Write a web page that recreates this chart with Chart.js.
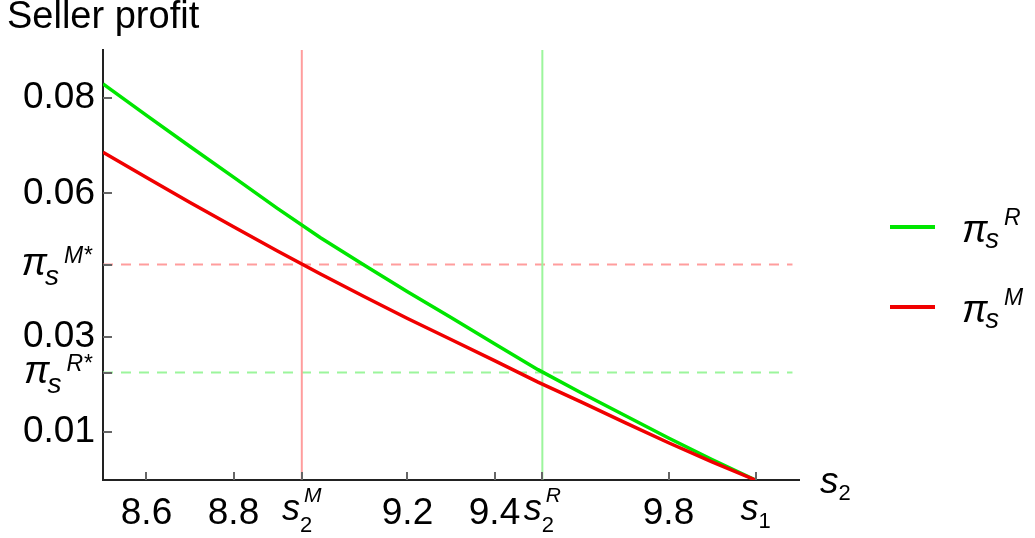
<!DOCTYPE html>
<html>
<head>
<meta charset="utf-8">
<script src="https://cdn.jsdelivr.net/npm/chart.js@4.4.0/dist/chart.umd.min.js"></script>
<style>
  html, body { margin: 0; padding: 0; background: #fff; }
  #wrap { width: 1035px; height: 538px; }
</style>
</head>
<body>
<div id="wrap"><canvas id="profitChart" width="1035" height="538"></canvas></div>
<script>
// seller quality s2 and the seller profit under the two regimes
var s2Values = [8.5, 8.6, 8.7, 8.8, 8.9, 9.0, 9.1, 9.2, 9.3, 9.4, 9.5, 9.6, 9.7, 9.8, 9.9, 10.0];
var profitR = [0.0829, 0.0763, 0.0698, 0.0634, 0.0569, 0.0507, 0.0450, 0.0394, 0.0340, 0.0285, 0.0231, 0.0182, 0.0135, 0.0088, 0.0043, 0.0];
var profitM = [0.0686, 0.0633, 0.0581, 0.0530, 0.0480, 0.0431, 0.0384, 0.0338, 0.0294, 0.0250, 0.0205, 0.0163, 0.0120, 0.0078, 0.0038, 0.0];

// equilibrium points
var s2M = 8.957, s2R = 9.51, s1 = 10.0;
var piMStar = 0.0451, piRStar = 0.0225;

// ticks ("_" = subscript, "^" = superscript)
var xTickValues = [8.6, 8.8, s2M, 9.2, 9.4, s2R, 9.8, s1];
var xTickLabels = ["8.6", "8.8", "s_2^M", "9.2", "9.4", "s_2^R", "9.8", "s_1"];
var yTickValues = [0.01, piRStar, 0.03, piMStar, 0.06, 0.08];
var yTickLabels = ["0.01", "π_s^R*", "0.03", "π_s^M*", "0.06", "0.08"];

var legendLabels = ["π_s^R", "π_s^M"];
var GREEN = "#00e600", RED = "#f00000";
var LIGHT_GREEN = "#9cf59c", LIGHT_RED = "#ff9d9d";

function font(size, italic) {
  return (italic ? "italic " : "") + size + 'px "Liberation Sans", Arial, sans-serif';
}

// draws things like s_2^M or π_s^M* with real sub/superscripts
function drawScript(ctx, label, x, y, o) {
  var m = label.match(/^([^_^]+)(?:_([^^]+))?(?:\^(.+))?$/);
  var base = m[1], sub = m[2] || "", sup = m[3] || "";
  var isNum = function (s) { return /^[0-9.]+$/.test(s); };
  ctx.font = font(o.base, !isNum(base));
  var wb = ctx.measureText(base).width;
  ctx.font = font(o.sub, !isNum(sub));
  var ws = sub ? ctx.measureText(sub).width : 0;
  ctx.font = font(o.sup, true);
  var wp = sup ? ctx.measureText(sup).width : 0;
  var total = o.stacked ? wb + Math.max(ws, sup ? wp + o.supShift : 0)
                        : wb + ws + (sup ? o.supGap + wp : 0);
  var x0 = o.align === "center" ? x - total / 2 : (o.align === "right" ? x - total : x);
  ctx.textAlign = "left";
  ctx.textBaseline = "alphabetic";
  ctx.fillStyle = "#000";
  ctx.font = font(o.base, !isNum(base));
  ctx.fillText(base, x0, y);
  if (sub) {
    ctx.font = font(o.sub, !isNum(sub));
    ctx.fillText(sub, x0 + wb - (o.subBack || 0), y + (sup || !o.stacked ? o.subDy : o.subDyAlone));
  }
  if (sup) {
    ctx.font = font(o.sup, true);
    var sx = o.stacked ? x0 + wb + o.supShift : x0 + wb + ws + o.supGap;
    ctx.fillText(sup, sx, y + o.supDy);
  }
}

var mathPlugin = {
  id: "mathLabels",
  afterDraw: function (chart) {
    var ctx = chart.ctx, xs = chart.scales.x, ys = chart.scales.y, area = chart.chartArea;
    ctx.save();

    // small inward tick marks
    ctx.strokeStyle = "#666";
    ctx.lineWidth = 2;
    ctx.beginPath();
    xTickValues.forEach(function (v) {
      var px = Math.round(xs.getPixelForValue(v));
      ctx.moveTo(px, area.bottom);
      ctx.lineTo(px, area.bottom - 8);
    });
    yTickValues.forEach(function (v) {
      var py = Math.round(ys.getPixelForValue(v));
      ctx.moveTo(area.left, py);
      ctx.lineTo(area.left + 9, py);
    });
    ctx.stroke();

    // symbolic tick labels
    xTickLabels.forEach(function (lab, i) {
      if (lab.indexOf("_") < 0) return;
      drawScript(ctx, lab, xs.getPixelForValue(xTickValues[i]), area.bottom + 40,
        { base: 36, sub: 22, sup: 21, stacked: true, supShift: 4, subDy: 12, subDyAlone: 8, supDy: -18, align: "center" });
    });
    yTickLabels.forEach(function (lab, i) {
      if (lab.indexOf("_") < 0) return;
      drawScript(ctx, lab, area.left - 11, ys.getPixelForValue(yTickValues[i]) + 10,
        { base: 38, sub: 28, sup: 23, stacked: false, supGap: 3, subBack: 2, subDy: 10, supDy: -12, align: "right" });
    });

    // axis titles
    ctx.fillStyle = "#000";
    ctx.font = font(38, false);
    ctx.textAlign = "left";
    ctx.textBaseline = "alphabetic";
    ctx.fillText("Seller profit", 7, 28);
    drawScript(ctx, "s_2", 820, 493, { base: 37, sub: 22, sup: 20, stacked: false, subDy: 7, align: "left" });

    // legend
    var colors = [GREEN, RED];
    legendLabels.forEach(function (lab, i) {
      var ly = 227 + i * 80;
      ctx.strokeStyle = colors[i];
      ctx.lineWidth = 4;
      ctx.beginPath();
      ctx.moveTo(890, ly);
      ctx.lineTo(935, ly);
      ctx.stroke();
      drawScript(ctx, lab, 962, ly + 15,
        { base: 38, sub: 27, sup: 23, stacked: false, supGap: 3, subBack: 2, subDy: 6, supDy: -17, align: "left" });
    });
    ctx.restore();
  }
};

function points(xv, yv) {
  return xv.map(function (x, i) { return { x: x, y: yv[i] }; });
}

new Chart(document.getElementById("profitChart"), {
  type: "line",
  data: {
    datasets: [
      { data: points(s2Values, profitM), borderColor: RED, borderWidth: 3.5, pointRadius: 0 },
      { data: points(s2Values, profitR), borderColor: GREEN, borderWidth: 3.5, pointRadius: 0 },
      { data: [{ x: s2M, y: 0 }, { x: s2M, y: 0.09 }], borderColor: LIGHT_RED, borderWidth: 2, pointRadius: 0 },
      { data: [{ x: s2R, y: 0 }, { x: s2R, y: 0.09 }], borderColor: LIGHT_GREEN, borderWidth: 2, pointRadius: 0 },
      { data: [{ x: 8.5, y: piMStar }, { x: 10.085, y: piMStar }], borderColor: LIGHT_RED, borderWidth: 2, borderDash: [10, 8], pointRadius: 0 },
      { data: [{ x: 8.5, y: piRStar }, { x: 10.085, y: piRStar }], borderColor: LIGHT_GREEN, borderWidth: 2, borderDash: [10, 8], pointRadius: 0 }
    ]
  },
  options: {
    responsive: false,
    animation: false,
    devicePixelRatio: 1,
    layout: { padding: { top: 50, right: 236, left: 0, bottom: 0 } },
    plugins: { legend: { display: false }, tooltip: { enabled: false } },
    scales: {
      x: {
        type: "linear",
        min: 8.5,
        max: 10.1,
        afterBuildTicks: function (scale) {
          scale.ticks = xTickValues.map(function (v) { return { value: v }; });
        },
        afterFit: function (scale) { scale.height = 58; },
        grid: { display: false },
        border: { display: true, color: "#222", width: 2 },
        ticks: {
          autoSkip: false,
          maxRotation: 0,
          padding: 4,
          color: "#000",
          font: { family: '"Liberation Sans", Arial, sans-serif', size: 37 },
          callback: function (v, i) {
            var lab = xTickLabels[i];
            return lab.indexOf("_") < 0 ? lab : "";
          }
        }
      },
      y: {
        min: 0,
        max: 0.09,
        afterBuildTicks: function (scale) {
          scale.ticks = yTickValues.map(function (v) { return { value: v }; });
        },
        afterFit: function (scale) { scale.width = 103; },
        grid: { display: false },
        border: { display: true, color: "#222", width: 2 },
        ticks: {
          autoSkip: false,
          padding: 0,
          color: "#000",
          font: { family: '"Liberation Sans", Arial, sans-serif', size: 37 },
          callback: function (v, i) {
            var lab = yTickLabels[i];
            return lab.indexOf("_") < 0 ? lab : "";
          }
        }
      }
    }
  },
  plugins: [mathPlugin]
});
</script>
</body>
</html>
